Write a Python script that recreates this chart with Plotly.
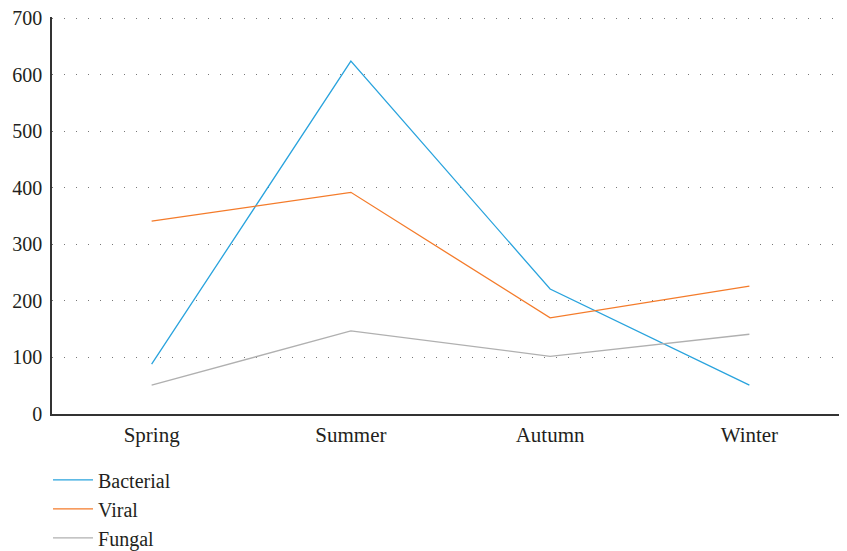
import plotly.graph_objects as go

seasons = ["Spring", "Summer", "Autumn", "Winter"]
bacterial = [88, 624, 221, 51]
viral = [341, 392, 170, 226]
fungal = [51, 147, 102, 141]
y_ticks = [0, 100, 200, 300, 400, 500, 600, 700]

colors = {"Bacterial": "#29a3dd", "Viral": "#f47b2a", "Fungal": "#b0b0b0"}

fig = go.Figure()
for name, vals in [("Bacterial", bacterial), ("Viral", viral), ("Fungal", fungal)]:
    fig.add_trace(go.Scatter(x=seasons, y=vals, mode="lines", name=name,
                             line=dict(color=colors[name], width=1.3)))

font = "Liberation Serif, DejaVu Serif, serif"
fig.update_layout(
    width=847, height=551,
    margin=dict(l=44, r=6, t=9, b=145, autoexpand=False),
    plot_bgcolor="white", paper_bgcolor="white",
    font=dict(family=font, size=20, color="#231f20"),
    showlegend=True,
    legend=dict(orientation="v", x=-0.005, xanchor="left", y=-0.117, yanchor="top",
                font=dict(size=20), tracegroupgap=0, itemwidth=40,
                bgcolor="rgba(0,0,0,0)"),
    xaxis=dict(range=[-0.5, 3.5], showgrid=False, showline=True, automargin=False,
               linecolor="#333", linewidth=1.5, ticks="", tickfont=dict(size=21),
               ticklabelstandoff=1),
    yaxis=dict(range=[0, 702], tickvals=y_ticks, showline=True, automargin=False,
               linecolor="#333", linewidth=1.5, ticks="", ticklabelstandoff=4,
               ticklabeloverflow="allow",
               showgrid=True, gridcolor="#777", gridwidth=1, griddash="1px,11px",
               zeroline=False, tickfont=dict(size=20)),
)
fig.write_html("out.html")
